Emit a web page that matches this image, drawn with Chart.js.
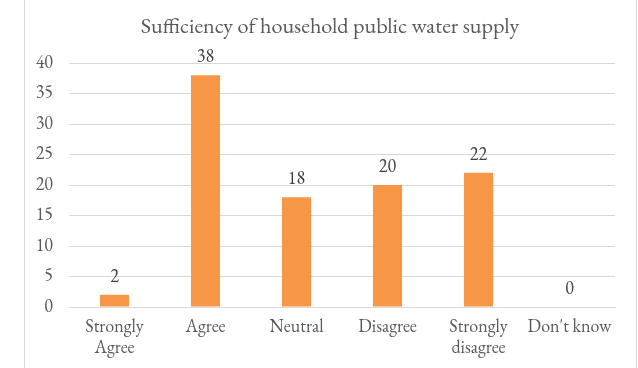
<!DOCTYPE html>
<html>
<head>
<meta charset="utf-8">
<script src="https://cdn.jsdelivr.net/npm/chart.js@4"></script>
<style>
  html, body { margin: 0; padding: 0; background: #ffffff; }
  #wrap { width: 638px; height: 368px; position: relative; }
</style>
</head>
<body>
<div id="wrap"><canvas id="c" width="638" height="368"></canvas></div>
<script>
// Survey responses on household public water supply
const categories = [['Strongly', 'Agree'], 'Agree', 'Neutral', 'Disagree', ['Strongly', 'disagree'], "Don't know"];
const responses = [2, 38, 18, 20, 22, 0];
const yTicks = [0, 5, 10, 15, 20, 25, 30, 35, 40];

const FONT = "Garamond, 'EB Garamond', 'Liberation Serif', 'DejaVu Serif', serif";
const TEXT = '#595959';
const GRID = '#d9d9d9';

// Value labels above each bar
const valueLabels = {
  id: 'valueLabels',
  afterDatasetsDraw(chart) {
    const ctx = chart.ctx;
    const meta = chart.getDatasetMeta(0);
    ctx.save();
    ctx.font = '18px ' + FONT;
    ctx.fillStyle = '#404040';
    ctx.textAlign = 'center';
    ctx.textBaseline = 'middle';
    meta.data.forEach((bar, i) => {
      ctx.fillText(String(responses[i]), bar.x, bar.y - 18);
    });
    ctx.restore();
  }
};

// Thin frame lines at the sides of the chart
const frame = {
  id: 'frame',
  beforeDraw(chart) {
    const ctx = chart.ctx;
    ctx.save();
    ctx.strokeStyle = GRID;
    ctx.lineWidth = 1;
    ctx.beginPath();
    ctx.moveTo(24.5, 0); ctx.lineTo(24.5, chart.height);
    ctx.moveTo(636.5, 0); ctx.lineTo(636.5, chart.height);
    ctx.stroke();
    ctx.restore();
  }
};

new Chart(document.getElementById('c'), {
  type: 'bar',
  data: {
    labels: categories,
    datasets: [{
      data: responses,
      backgroundColor: '#f79646',
      borderWidth: 0,
      categoryPercentage: 1,
      barPercentage: 0.32
    }]
  },
  options: {
    responsive: false,
    animation: false,
    layout: { padding: { left: 22, right: 0, top: 0, bottom: 0 } },
    plugins: {
      legend: { display: false },
      tooltip: { enabled: false },
      title: {
        display: true,
        text: 'Sufficiency of household public water supply',
        color: TEXT,
        font: { family: FONT, size: 22.2, weight: 'normal' },
        padding: { top: 14, bottom: 22.4 }
      }
    },
    scales: {
      x: {
        grid: { display: false, drawTicks: false },
        border: { color: GRID, width: 1 },
        ticks: {
          color: TEXT,
          font: { family: FONT, size: 18 },
          padding: 9,
          maxRotation: 0,
          autoSkip: false
        },
        afterFit(s) { s.height = 61; }
      },
      y: {
        min: 0,
        max: 40,
        afterBuildTicks(s) { s.ticks = yTicks.map(v => ({ value: v })); },
        grid: { color: GRID, drawTicks: false },
        border: { display: false },
        ticks: {
          color: TEXT,
          font: { family: FONT, size: 18 },
          padding: 16
        },
        afterFit(s) { s.width = 47; }
      },
      // empty right-hand margin beside the plot
      yRight: {
        position: 'right',
        display: true,
        min: 0,
        max: 40,
        grid: { display: false, drawTicks: false },
        border: { display: false },
        ticks: { display: false },
        afterFit(s) { s.width = 23; }
      }
    }
  },
  plugins: [valueLabels, frame]
});
</script>
</body>
</html>
